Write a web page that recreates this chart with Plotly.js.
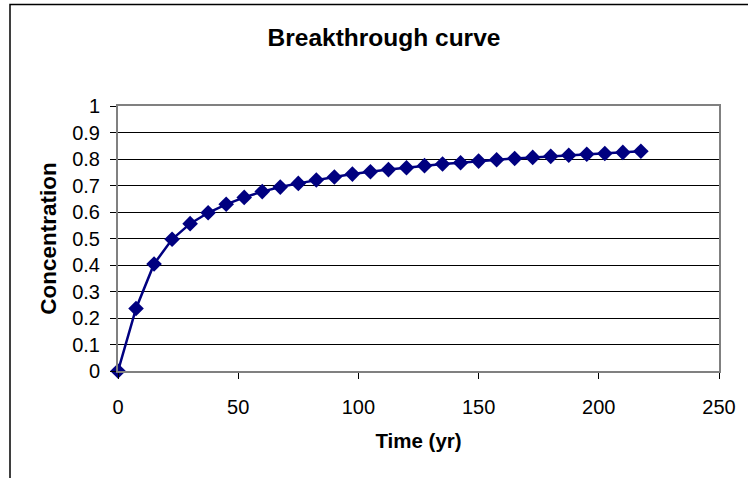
<!DOCTYPE html>
<html>
<head>
<meta charset="utf-8">
<script src="https://cdn.plot.ly/plotly-3.0.1.min.js"></script>
<style>
  html, body { margin: 0; padding: 0; background: #fff; }
  #chart { width: 748px; height: 478px; }
</style>
</head>
<body>
<div id="chart"></div>
<script>
// Elapsed time (years) at each sample
const timeYr = [0, 7.5, 15, 22.5, 30, 37.5, 45, 52.5, 60, 67.5,
                75, 82.5, 90, 97.5, 105, 112.5, 120, 127.5, 135, 142.5,
                150, 157.5, 165, 172.5, 180, 187.5, 195, 202.5, 210, 217.5];

// Relative concentration at the outlet
const concentration = [0, 0.236, 0.404, 0.497, 0.556, 0.597, 0.629, 0.655, 0.677, 0.694,
                       0.708, 0.721, 0.732, 0.743, 0.752, 0.760, 0.767, 0.775, 0.781, 0.786,
                       0.792, 0.797, 0.802, 0.806, 0.810, 0.814, 0.818, 0.821, 0.825, 0.829];

const xTicks = [0, 50, 100, 150, 200, 250];
const yTicks = [0, 0.1, 0.2, 0.3, 0.4, 0.5, 0.6, 0.7, 0.8, 0.9, 1];
const yTickText = ['0', '0.1', '0.2', '0.3', '0.4', '0.5', '0.6', '0.7', '0.8', '0.9', '1'];

const FONT = 'Liberation Sans, Arial, Helvetica, sans-serif';
const NAVY = '#000080';

const trace = {
  x: timeYr,
  y: concentration,
  type: 'scatter',
  mode: 'lines+markers',
  line: { color: NAVY, width: 2.5 },
  marker: { symbol: 'diamond', size: 12, color: NAVY, line: { width: 0 } },
  cliponaxis: false,
  hoverinfo: 'x+y'
};

const W = 748, H = 478;
const L = 118, R = 29, T = 106, B = 107;
const pw = W - L - R, ph = H - T - B;

const layout = {
  width: W,
  height: H,
  margin: { l: L, r: R, t: T, b: B, pad: 0 },
  paper_bgcolor: '#ffffff',
  plot_bgcolor: '#ffffff',
  showlegend: false,
  font: { family: FONT, color: '#000', size: 20 },
  title: {
    text: '<b>Breakthrough curve</b>',
    font: { family: FONT, size: 24.5, color: '#000' },
    xref: 'container', yref: 'container',
    x: 384 / W, y: 1 - 37 / H,
    xanchor: 'center', yanchor: 'middle'
  },
  xaxis: {
    range: [0, 250],
    tickvals: xTicks,
    ticktext: xTicks.map(String),
    showgrid: false,
    zeroline: false,
    showline: true,
    linecolor: '#808080',
    linewidth: 2,
    mirror: true,
    ticks: 'outside',
    ticklen: 6,
    tickwidth: 1,
    tickcolor: '#000',
    ticklabelstandoff: 11,
    tickfont: { family: FONT, size: 20, color: '#000' },
    title: {
      text: '<b>Time (yr)</b>',
      font: { family: FONT, size: 20.5, color: '#000' },
      standoff: 17
    },
    fixedrange: true
  },
  yaxis: {
    range: [0, 1],
    tickvals: yTicks,
    ticktext: yTickText,
    showgrid: true,
    gridcolor: '#000',
    gridwidth: 1,
    zeroline: false,
    showline: true,
    linecolor: '#808080',
    linewidth: 2,
    mirror: true,
    ticks: 'outside',
    ticklen: 6,
    tickwidth: 1,
    tickcolor: '#000',
    ticklabelstandoff: 6,
    tickfont: { family: FONT, size: 20, color: '#000' },
    title: {
      text: '<b>Concentration</b>',
      font: { family: FONT, size: 22.5, color: '#000' },
      standoff: 9
    },
    fixedrange: true
  },
  shapes: [
    // outer chart frame (left and top edges visible inside the page)
    {
      type: 'rect', xref: 'paper', yref: 'paper',
      x0: (10 - L) / pw, x1: (W + 20 - L) / pw,
      y0: -(H + 20 - T - ph) / ph, y1: (T + ph - 4.5) / ph,
      line: { color: '#000', width: 1.5 },
      fillcolor: 'rgba(0,0,0,0)',
      layer: 'below'
    }
  ]
};

Plotly.newPlot('chart', [trace], layout, { displayModeBar: false, staticPlot: true });
</script>
</body>
</html>
